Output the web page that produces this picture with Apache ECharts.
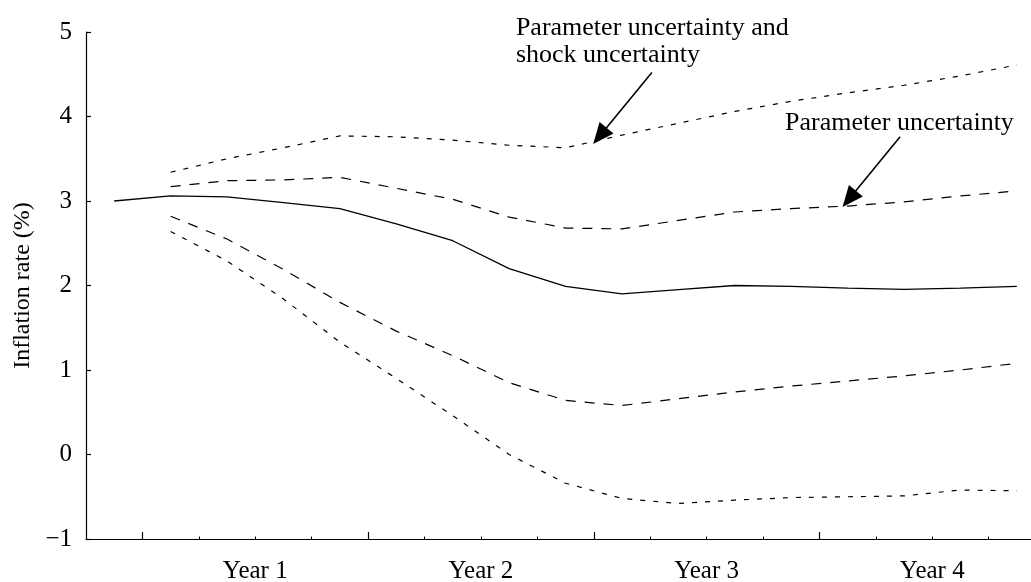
<!DOCTYPE html>
<html><head><meta charset="utf-8">
<script src="https://cdn.jsdelivr.net/npm/echarts@6/dist/echarts.min.js"></script>
<style>html,body{margin:0;padding:0;background:#fff}#c{width:1031px;height:582px}</style>
</head><body><div id="c"></div>
<script>
// x positions in quarters (data plotted mid-quarter)
const quarters = [0.5,1.5,2.5,3.5,4.5,5.5,6.5,7.5,8.5,9.5,10.5,11.5,12.5,13.5,14.5,15.5,16.5];
const central    = [3.00,3.06,3.05,2.98,2.91,2.73,2.53,2.20,1.99,1.90,1.95,2.00,1.99,1.97,1.955,1.97,1.99];
const paramUpper = [null,3.17,3.24,3.25,3.28,3.15,3.02,2.81,2.68,2.67,2.77,2.87,2.91,2.94,2.99,3.06,3.12];
const paramLower = [null,2.82,2.55,2.19,1.80,1.46,1.17,0.85,0.64,0.58,0.66,0.74,0.81,0.87,0.93,1.00,1.08];
const totalUpper = [null,3.34,3.50,3.63,3.77,3.76,3.72,3.66,3.63,3.78,3.92,4.06,4.18,4.28,4.37,4.48,4.61];
const totalLower = [null,2.64,2.29,1.84,1.33,0.90,0.46,0.00,-0.34,-0.52,-0.58,-0.54,-0.51,-0.50,-0.49,-0.42,-0.43];
const yearLabels = ['Year 1','Year 2','Year 3','Year 4'];
const yearLabelPos = [3,7,11,15];
const majorTicks = [1,5,9,13];
const minorTicks = [2,3,4,6,7,8,10,11,12,14,15,16];
const yTitle = 'Inflation rate (%)';
// annotations: text lines, text anchor (x,y data), arrow start, arrow tip
const annText1 = ['Parameter uncertainty and','shock uncertainty'];
const annText2 = ['Parameter uncertainty'];
const annTextAt1 = [7.62, 5.20];
const annTextAt2 = [12.39, 4.08];
const arrow1 = [[10.03,4.52],[8.99,3.675]];
const arrow2 = [[14.43,3.76],[13.41,2.93]];

const FONT = '"Liberation Serif","Times New Roman",serif';
function pairs(vals){ const out=[]; vals.forEach((v,i)=>{ if(v!==null) out.push([quarters[i],v]); }); return out; }
function lineSeries(vals, type, w){
  return {type:'line', data:pairs(vals), symbol:'none', xAxisIndex:0, yAxisIndex:0,
    lineStyle:{color:'#000', width:w, type:type}, silent:true, animation:false};
}
const chart = echarts.init(document.getElementById('c'), null, {renderer:'canvas'});
chart.setOption({
  animation:false,
  backgroundColor:'#fff',
  grid:{left:86, right:0, top:32, bottom:43, containLabel:false, outerBoundsMode:'none'},
  xAxis:[{
    type:'value', min:0, max:16.75, position:'bottom',
    axisLine:{show:true, onZero:false, lineStyle:{color:'#000', width:1.2}},
    axisTick:{show:true, inside:true, length:7, customValues:majorTicks, lineStyle:{color:'#000', width:1.2}},
    axisLabel:{show:true, customValues:yearLabelPos, formatter:v=>yearLabels[yearLabelPos.indexOf(v)]||'',
      fontFamily:FONT, fontSize:25, color:'#000', margin:20},
    splitLine:{show:false}
  },{
    type:'value', min:0, max:16.75, position:'bottom', offset:0,
    axisLine:{show:false, onZero:false},
    axisTick:{show:true, inside:true, length:2.5, customValues:minorTicks, lineStyle:{color:'#000', width:1}},
    axisLabel:{show:false}, splitLine:{show:false}
  }],
  yAxis:{
    type:'value', min:-1, max:5, interval:1,
    name:yTitle, nameLocation:'middle', nameGap:45, nameRotate:90,
    nameTextStyle:{fontFamily:FONT, fontSize:24, color:'#000'},
    axisLine:{show:true, lineStyle:{color:'#000', width:1.2}},
    axisTick:{show:true, inside:true, length:5, lineStyle:{color:'#000', width:1.2}},
    axisLabel:{fontFamily:FONT, fontSize:25, color:'#000', margin:14, formatter:v=>String(v).replace('-','\u2212')},
    splitLine:{show:false}
  },
  series:[
    lineSeries(central,'solid',1.3),
    lineSeries(paramUpper,[10,9],1.2),
    lineSeries(paramLower,[10,9],1.2),
    lineSeries(totalUpper,[5,8],1.2),
    lineSeries(totalLower,[5,8],1.2)
  ]
});
function arrowGraphics(ar){
  const s = chart.convertToPixel({gridIndex:0}, ar[0]);
  const t = chart.convertToPixel({gridIndex:0}, ar[1]);
  const dx=t[0]-s[0], dy=t[1]-s[1], L=Math.hypot(dx,dy), ux=dx/L, uy=dy/L;
  const hl=21, hw=9;
  const bx=t[0]-ux*hl, by=t[1]-uy*hl;
  return [
    {type:'line', shape:{x1:s[0],y1:s[1],x2:bx+ux*2,y2:by+uy*2}, style:{stroke:'#000', lineWidth:1.6}, silent:true},
    {type:'polygon', shape:{points:[[t[0],t[1]],[bx-uy*hw,by+ux*hw],[bx+uy*hw,by-ux*hw]]}, style:{fill:'#000'}, silent:true}
  ];
}
function textGraphic(lines, at){
  const p = chart.convertToPixel({gridIndex:0}, at);
  return {type:'text', x:p[0], y:p[1], silent:true,
    style:{text:lines.join('\n'), font:'26px '+FONT, fill:'#000', lineHeight:27, align:'left', verticalAlign:'top'}};
}
chart.setOption({graphic:[
  ...arrowGraphics(arrow1), ...arrowGraphics(arrow2),
  textGraphic(annText1, annTextAt1), textGraphic(annText2, annTextAt2)
]});
</script></body></html>
